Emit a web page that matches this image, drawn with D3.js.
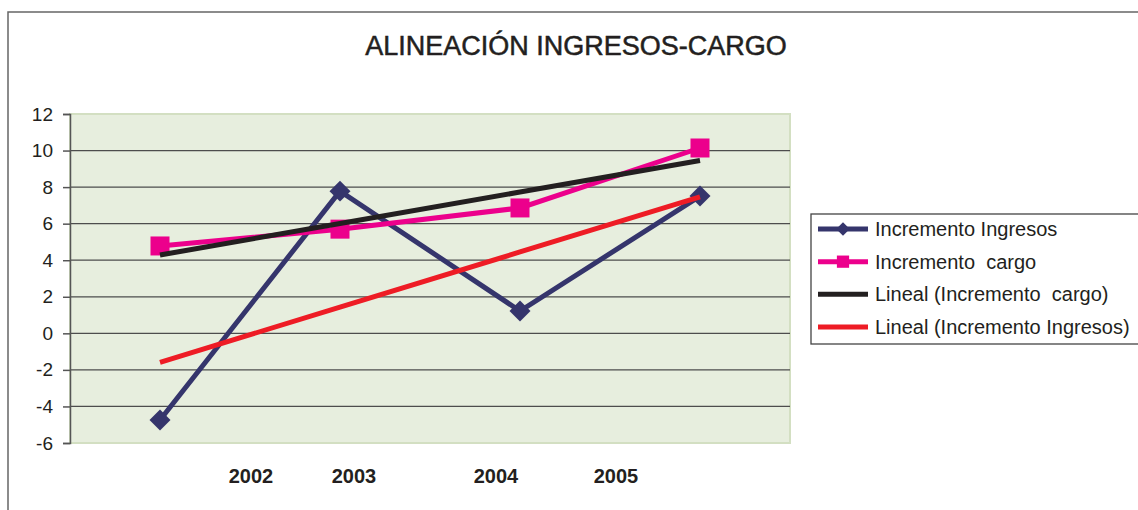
<!DOCTYPE html>
<html>
<head>
<meta charset="utf-8">
<script src="https://cdn.jsdelivr.net/npm/d3@7"></script>
<style>
  body { margin: 0; background: #fff; }
  svg { display: block; font-family: "Liberation Sans", Arial, sans-serif; }
  text { white-space: pre; }
</style>
</head>
<body>
<svg width="1138" height="510"></svg>
<script>
const years = ['2002', '2003', '2004', '2005']
const ingresos = [-4.74, 7.78, 1.22, 7.51]
const cargo = [4.78, 5.70, 6.86, 10.14]
const yTicks = [-6, -4, -2, 0, 2, 4, 6, 8, 10, 12]
const title = 'ALINEACIÓN INGRESOS-CARGO'
const legendNames = ['Incremento Ingresos', 'Incremento  cargo', 'Lineal (Incremento  cargo)', 'Lineal (Incremento Ingresos)']

const svg = d3.select('svg')
const plot = {left: 70, right: 790, top: 114, bottom: 443}

// least squares line over category index, like Excel's "Lineal" trendline
function trend(values) {
  const xs = values.map((d, i) => i + 1)
  const mx = d3.mean(xs), my = d3.mean(values)
  const slope = d3.sum(xs, (x, i) => (x - mx) * (values[i] - my)) / d3.sum(xs, x => (x - mx) ** 2)
  return values.map((d, i) => my + slope * (xs[i] - mx))
}

const x = d3.scalePoint().domain(years).range([plot.left, plot.right]).padding(0.5)
const y = d3.scaleLinear().domain([-6, 12]).range([plot.bottom, plot.top])
// the year labels sit off the points in the original
const labelX = d3.scaleOrdinal().domain(years).range([251, 354, 496, 616])

// outer frame
svg.append('rect')
  .attr('x', 8).attr('y', 12).attr('width', 1160).attr('height', 540)
  .attr('fill', 'none').attr('stroke', '#666').attr('stroke-width', 1.5)

svg.append('text')
  .attr('x', 576).attr('y', 55)
  .attr('text-anchor', 'middle')
  .attr('font-size', 27).attr('fill', '#231f20')
  .attr('stroke', '#231f20').attr('stroke-width', 0.5)
  .text(title)

svg.append('rect')
  .attr('x', plot.left).attr('y', plot.top)
  .attr('width', plot.right - plot.left).attr('height', plot.bottom - plot.top)
  .attr('fill', '#e7eede').attr('stroke', '#d3dfc2').attr('stroke-width', 2)

svg.append('g')
  .selectAll('line')
  .data(yTicks.filter(d => d > -6 && d < 12))
  .join('line')
  .attr('x1', plot.left).attr('x2', plot.right)
  .attr('y1', d => y(d)).attr('y2', d => y(d))
  .attr('stroke', '#4d4d4d').attr('stroke-width', 1.3)

const yAxis = d3.axisLeft(y).tickValues(yTicks).tickSize(7).tickPadding(10)
  .tickFormat(d => String(d))
const gy = svg.append('g').attr('transform', `translate(${plot.left},0)`).call(yAxis)
gy.select('.domain').attr('stroke', '#555').attr('stroke-width', 1.5)
gy.selectAll('.tick line').attr('stroke', '#555').attr('stroke-width', 1.5)
gy.selectAll('.tick text')
  .attr('font-size', 19).attr('fill', '#231f20')
  .attr('font-family', '"Liberation Sans", Arial, sans-serif')

svg.append('g')
  .selectAll('text')
  .data(years)
  .join('text')
  .attr('x', d => labelX(d)).attr('y', 483)
  .attr('text-anchor', 'middle')
  .attr('font-size', 20).attr('font-weight', 'bold').attr('fill', '#231f20')
  .text(d => d)

const line = d3.line().x((d, i) => x(years[i])).y(d => y(d))

const navy = '#35356c', pink = '#ec008c', black = '#231f20', red = '#ee1c25'
const diamond = d3.symbol().type(d3.symbolSquare).size(220)
const square = d3.symbol().type(d3.symbolSquare).size(361)

svg.append('path').datum(ingresos).attr('d', line)
  .attr('fill', 'none').attr('stroke', navy).attr('stroke-width', 5)
svg.append('g').selectAll('path').data(ingresos).join('path')
  .attr('d', diamond)
  .attr('transform', (d, i) => `translate(${x(years[i])},${y(d)}) rotate(45)`)
  .attr('fill', navy)

svg.append('path').datum(cargo).attr('d', line)
  .attr('fill', 'none').attr('stroke', pink).attr('stroke-width', 5)
svg.append('g').selectAll('path').data(cargo).join('path')
  .attr('d', square)
  .attr('transform', (d, i) => `translate(${x(years[i])},${y(d)})`)
  .attr('fill', pink)

svg.append('path').datum(trend(cargo)).attr('d', line)
  .attr('fill', 'none').attr('stroke', black).attr('stroke-width', 5)
svg.append('path').datum(trend(ingresos)).attr('d', line)
  .attr('fill', 'none').attr('stroke', red).attr('stroke-width', 5)

// legend
const legend = svg.append('g')
legend.append('rect')
  .attr('x', 811).attr('y', 214).attr('width', 400).attr('height', 130)
  .attr('fill', '#fff').attr('stroke', '#444').attr('stroke-width', 1.3)

const legendColors = [navy, pink, black, red]
const legendY = d3.scalePoint().domain(legendNames).range([229, 327])
const rows = legend.selectAll('g.row').data(legendNames).join('g')
  .attr('class', 'row')
  .attr('transform', d => `translate(0,${legendY(d)})`)
rows.append('line')
  .attr('x1', 818).attr('x2', 868)
  .attr('stroke', (d, i) => legendColors[i]).attr('stroke-width', 5)
rows.filter((d, i) => i === 0).append('path')
  .attr('d', d3.symbol().type(d3.symbolSquare).size(90))
  .attr('transform', 'translate(843,0) rotate(45)').attr('fill', navy)
rows.filter((d, i) => i === 1).append('path')
  .attr('d', d3.symbol().type(d3.symbolSquare).size(150))
  .attr('transform', 'translate(843,0)').attr('fill', pink)
rows.append('text')
  .attr('x', 875).attr('dy', '0.35em')
  .attr('font-size', 20).attr('fill', '#231f20')
  .text(d => d)
</script>
</body>
</html>
